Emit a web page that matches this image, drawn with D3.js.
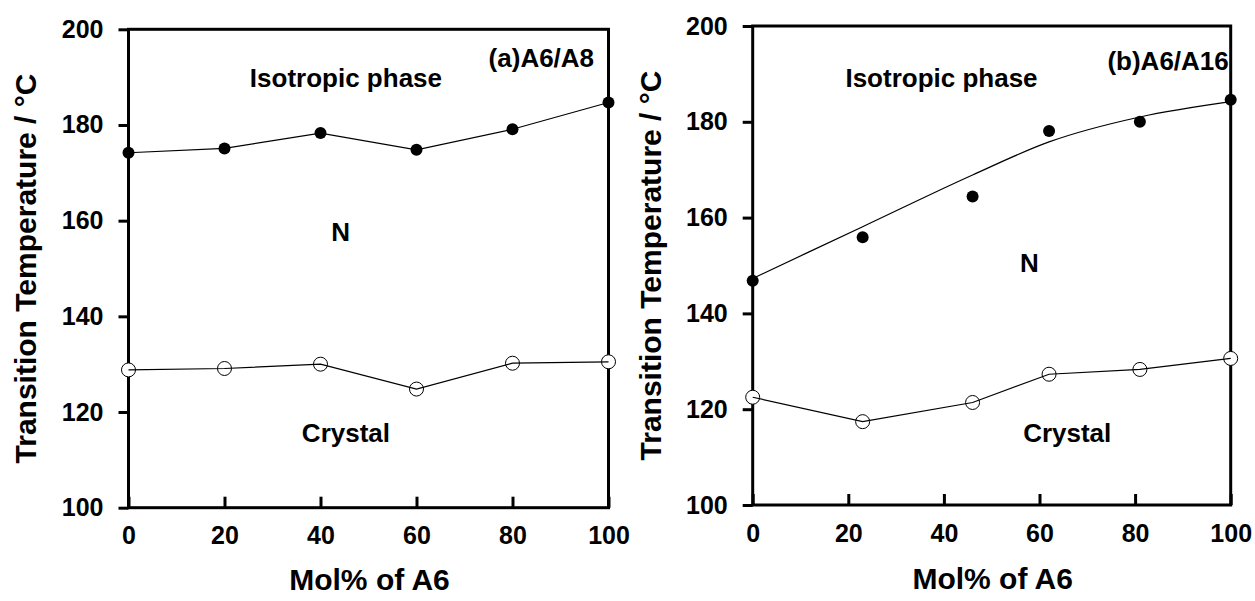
<!DOCTYPE html>
<html>
<head>
<meta charset="utf-8">
<style>
  body { margin: 0; background: #fff; }
  svg { display: block; }
  text { font-family: "Liberation Sans", Arial, sans-serif; font-weight: bold; fill: #000; }
</style>
</head>
<body>
<svg width="1255" height="601"></svg>

<script src="https://d3js.org/d3.v7.min.js"></script>
<script>
	// phase diagrams of the two binary mixtures

	const xTicks = [0, 20, 40, 60, 80, 100]
	const yTicks = [100, 120, 140, 160, 180, 200]

	// (a) A6/A8
	const molA8 = [0, 20, 40, 60, 80, 100]
	const clearA8 = [174.2, 175.1, 178.3, 174.8, 179.1, 184.7]
	const meltA8 = [128.8, 129.1, 130.0, 124.8, 130.2, 130.5]

	// (b) A6/A16
	const molA16 = [0, 23, 46, 62, 81, 100]
	const clearA16 = [146.8, 155.9, 164.4, 178.1, 180.0, 184.6]
	const clearFitA16 = [147.3, 158.1, 168.9, 175.8, 181.0, 184.2]
	const meltA16 = [122.5, 117.4, 121.4, 127.3, 128.3, 130.6]

	const zip = (xs, ys) => xs.map((x, i) => [x, ys[i]])

	const panels = [
		{
			left: 128.5, right: 608.5, top: 29.3, bottom: 507.7,
			yTitleX: 36, xTitleY: 590,
			title: "(a)A6/A8", titleAt: [97, 192.1],
			iso: [45.3, 187.9], n: [44.2, 155.8], crystal: [45.3, 113.8],
			clear: zip(molA8, clearA8), clearLine: zip(molA8, clearA8), clearCurve: d3.curveLinear,
			melt: zip(molA8, meltA8)
		},
		{
			left: 752.7, right: 1230.7, top: 26, bottom: 505,
			yTitleX: 661, xTitleY: 589,
			title: "(b)A6/A16", titleAt: [99.6, 190.8],
			iso: [39.5, 187.3], n: [57.9, 148.7], crystal: [65.8, 113.2],
			clear: zip(molA16, clearA16), clearLine: zip(molA16, clearFitA16), clearCurve: d3.curveMonotoneX,
			melt: zip(molA16, meltA16)
		}
	]

	const svg = d3.select("svg")

	panels.forEach(p => {
		const x = d3.scaleLinear().domain([0, 100]).range([p.left, p.right])
		const y = d3.scaleLinear().domain([100, 200]).range([p.bottom, p.top])
		const line = curve => d3.line().x(d => x(d[0])).y(d => y(d[1])).curve(curve)

		const g = svg.append("g")

		// y axis, ticks pointing out
		const ya = g.append("g")
			.attr("transform", `translate(${p.left},0)`)
			.call(d3.axisLeft(y).tickValues(yTicks).tickSize(10).tickSizeOuter(0).tickPadding(15))
		ya.select(".domain").remove()
		ya.selectAll("line").attr("stroke-width", 3)
		ya.selectAll("text").attr("font-size", 25).attr("font-family", null)

		// x axis, ticks pointing in
		const xa = g.append("g")
			.attr("transform", `translate(0,${p.bottom})`)
			.call(d3.axisBottom(x).tickValues(xTicks).tickSize(-11).tickSizeOuter(0).tickPadding(19))
		xa.select(".domain").remove()
		xa.selectAll("line").attr("stroke-width", 3)
		xa.selectAll("text").attr("font-size", 25).attr("font-family", null)

		// frame
		g.append("rect")
			.attr("x", p.left).attr("y", p.top)
			.attr("width", p.right - p.left).attr("height", p.bottom - p.top)
			.attr("fill", "none").attr("stroke", "#000").attr("stroke-width", 3)

		// clearing points and curve
		g.append("path")
			.attr("d", line(p.clearCurve)(p.clearLine))
			.attr("fill", "none").attr("stroke", "#000").attr("stroke-width", 1.2)
		g.selectAll(".clear").data(p.clear).join("circle")
			.attr("class", "clear")
			.attr("cx", d => x(d[0])).attr("cy", d => y(d[1])).attr("r", 6)
			.attr("fill", "#000")

		// melting points, the line runs across the open circles
		g.selectAll(".melt").data(p.melt).join("circle")
			.attr("class", "melt")
			.attr("cx", d => x(d[0])).attr("cy", d => y(d[1])).attr("r", 7)
			.attr("fill", "#fff").attr("stroke", "#000").attr("stroke-width", 1)
		g.append("path")
			.attr("d", line(d3.curveLinear)(p.melt))
			.attr("fill", "none").attr("stroke", "#000").attr("stroke-width", 1.2)

		// labels
		const label = (at, txt, anchor) => g.append("text")
			.attr("x", x(at[0])).attr("y", y(at[1]))
			.attr("text-anchor", anchor).attr("font-size", 26)
			.text(txt)
		label(p.titleAt, p.title, "end")
		label(p.iso, "Isotropic phase", "middle")
		label(p.n, "N", "middle")
		label(p.crystal, "Crystal", "middle")

		g.append("text")
			.attr("transform", `translate(${p.yTitleX},${(p.top + p.bottom) / 2}) rotate(-90)`)
			.attr("text-anchor", "middle").attr("font-size", 30)
			.text("Transition Temperature / °C")
		g.append("text")
			.attr("x", (p.left + p.right) / 2 + 1).attr("y", p.xTitleY)
			.attr("text-anchor", "middle").attr("font-size", 30)
			.text("Mol% of A6")
	})
</script>
</body>
</html>
